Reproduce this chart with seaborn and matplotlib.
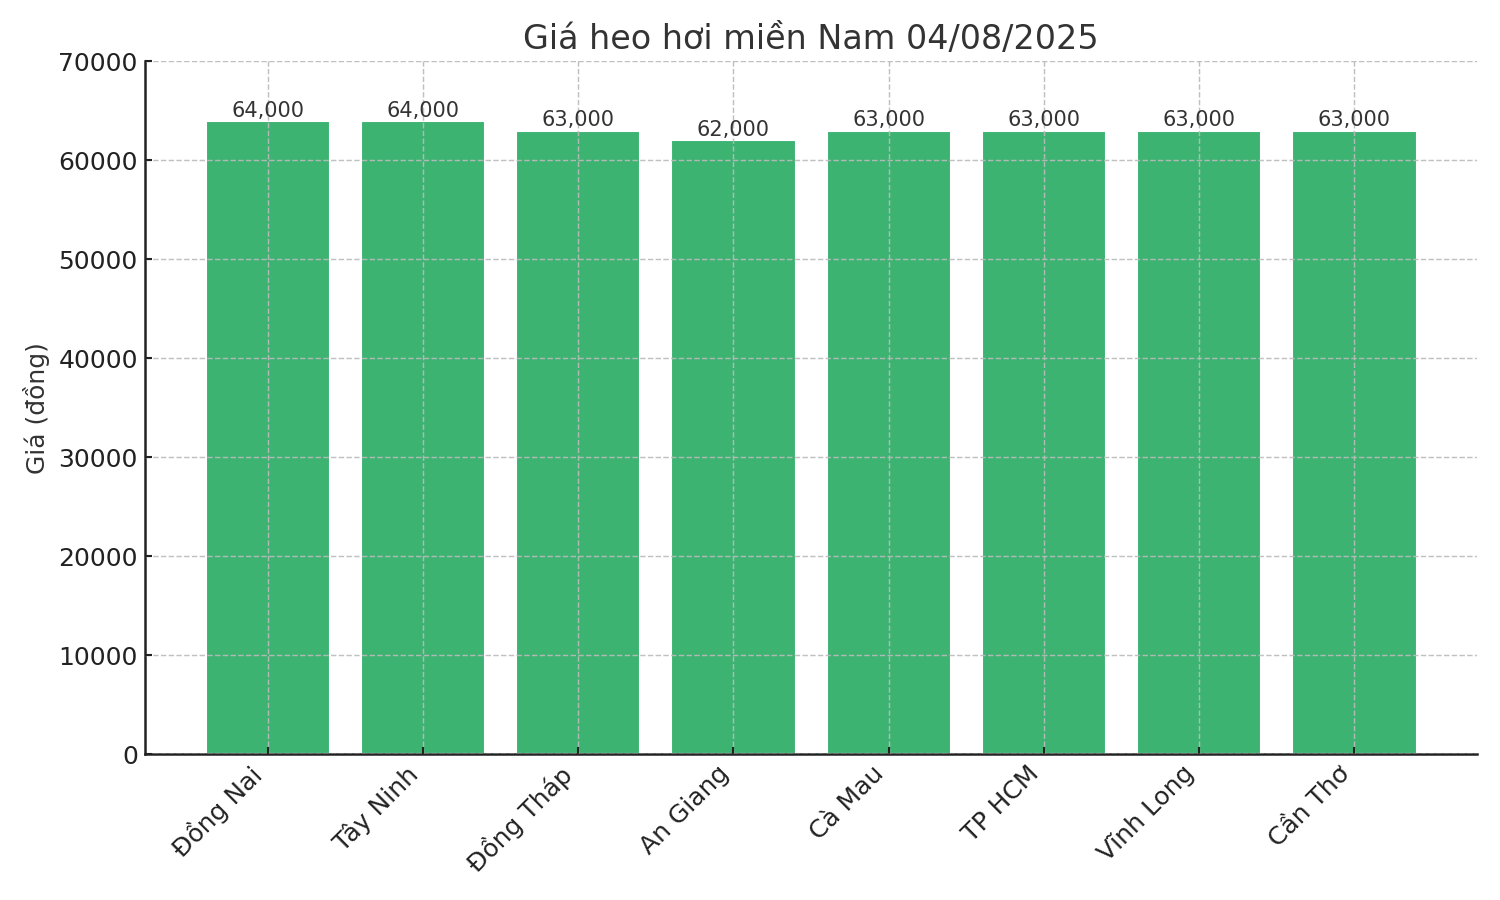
import pandas as pd
import matplotlib
matplotlib.use("Agg")
import matplotlib.pyplot as plt
import seaborn as sns

# du lieu gia heo hoi mien Nam
provinces = ["Đồng Nai", "Tây Ninh", "Đồng Tháp", "An Giang", "Cà Mau", "TP HCM", "Vĩnh Long", "Cần Thơ"]
prices = [64000, 64000, 63000, 62000, 63000, 63000, 63000, 63000]
title = "Giá heo hơi miền Nam 04/08/2025"
ylabel = "Giá (đồng)"

sns.set_style("white")
plt.rcParams['font.family'] = ['DejaVu Sans']
plt.rcParams['text.color'] = '#333333'
plt.rcParams['axes.labelcolor'] = '#333333'
plt.rcParams['xtick.color'] = '#222222'
plt.rcParams['ytick.color'] = '#222222'

df = pd.DataFrame({"province": provinces, "price": prices})

fig = plt.figure(figsize=(10, 6), dpi=150)
ax = fig.add_axes([0.0967, 0.162, 0.888, 0.770])
sns.barplot(data=df, x="province", y="price", color="#3CB371", saturation=1,
            width=0.8, ax=ax)

for i, v in enumerate(prices):
    ax.text(i, v, f"{v:,}", ha="center", va="bottom", fontsize=10, color="#333333")

ax.set_xlim(-0.79, len(provinces) - 1 + 0.79)
ax.set_ylim(0, 70000)
ax.set_yticks(range(0, 70001, 10000))
ax.set_title(title, fontsize=16, color="#333333")
ax.set_xlabel("")
ax.set_ylabel(ylabel, fontsize=12)
ax.tick_params(axis="both", labelsize=12, length=3.5, width=1, direction="in",
               bottom=True, left=True)
plt.setp(ax.get_xticklabels(), rotation=45, ha="right")

ax.set_axisbelow(False)
ax.grid(True, linestyle="--", color="#bbbbbb", linewidth=0.7, alpha=0.9)
sns.despine(ax=ax)
ax.spines["left"].set_linewidth(1.2)
ax.spines["bottom"].set_linewidth(1.2)
ax.spines["left"].set_color("#222222")
ax.spines["bottom"].set_color("#222222")

fig.savefig("out.png", dpi=150)
plt.close(fig)
